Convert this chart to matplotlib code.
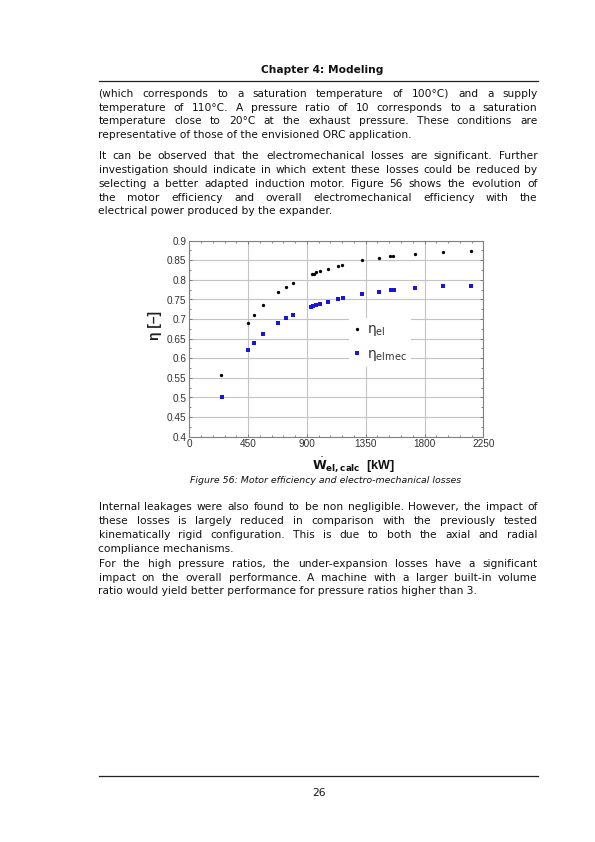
import matplotlib
matplotlib.use('Agg')
import matplotlib.pyplot as plt
from matplotlib.ticker import MultipleLocator, FuncFormatter

# ---------------- data ----------------
w_el_x = [245, 446, 497, 561, 679, 741, 792, 936, 951, 969, 1000, 1058, 1135, 1171,
          1322, 1450, 1539, 1560, 1726, 1943, 2155]
eta_el = [0.558, 0.691, 0.711, 0.735, 0.768, 0.782, 0.791, 0.814, 0.816, 0.819, 0.822,
          0.829, 0.835, 0.839, 0.850, 0.856, 0.860, 0.861, 0.866, 0.870, 0.873]
w_elmec_x = [249, 449, 497, 564, 682, 741, 792, 935, 950, 966, 1000, 1058, 1136, 1176,
             1324, 1450, 1544, 1565, 1726, 1943, 2158]
eta_elmec = [0.502, 0.621, 0.640, 0.661, 0.691, 0.703, 0.711, 0.732, 0.734, 0.735, 0.739,
             0.744, 0.750, 0.754, 0.765, 0.770, 0.774, 0.775, 0.779, 0.784, 0.785]
series_labels = [r'$\mathrm{η}_{\mathrm{el}}$', r'$\mathrm{η}_{\mathrm{elmec}}$']
x_ticks = [0, 450, 900, 1350, 1800, 2250]
y_ticks = [0.4, 0.45, 0.5, 0.55, 0.6, 0.65, 0.7, 0.75, 0.8, 0.85, 0.9]

header = "Chapter 4: Modeling"
para1 = [("(which corresponds to a saturation temperature of 100°C) and a supply", True),
         ("temperature of 110°C. A pressure ratio of 10 corresponds to a saturation", True),
         ("temperature close to 20°C at the exhaust pressure. These conditions are", True),
         ("representative of those of the envisioned ORC application.", False)]
para2 = [("It can be observed that the electromechanical losses are significant. Further", True),
         ("investigation should indicate in which extent these losses could be reduced by", True),
         ("selecting a better adapted induction motor. Figure 56 shows the evolution of", True),
         ("the motor efficiency and overall electromechanical efficiency with the", True),
         ("electrical power produced by the expander.", False)]
para3 = [("Internal leakages were also found to be non negligible. However, the impact of", True),
         ("these losses is largely reduced in comparison with the previously tested", True),
         ("kinematically rigid configuration. This is due to both the axial and radial", True),
         ("compliance mechanisms.", False)]
para4 = [("For the high pressure ratios, the under-expansion losses have a significant", True),
         ("impact on the overall performance. A machine with a larger built-in volume", True),
         ("ratio would yield better performance for pressure ratios higher than 3.", False)]
caption = "Figure 56: Motor efficiency and electro-mechanical losses"
page_no = "26"

# ---------------- page ----------------
W, H = 595, 842
fig = plt.figure(figsize=(W / 100, H / 100), dpi=100)
fig.patch.set_facecolor('white')
r = fig.canvas.get_renderer()


def fx(x):
    return x / W


def fy(y):
    return 1 - y / H


BODY = dict(family='DejaVu Sans', size=7.7, color='#111111')
X0, X1 = 98.5, 537.5


def draw_line(text, ycenter, justify):
    yb = fy(ycenter + 3.6)
    if not justify:
        fig.text(fx(X0), yb, text, ha='left', va='baseline', **BODY)
        return
    words = text.split(' ')
    ts = [fig.text(0, yb, w, ha='left', va='baseline', **BODY) for w in words]
    ws = [t.get_window_extent(r).width for t in ts]
    gap = (X1 - X0 - sum(ws)) / (len(words) - 1)
    x = X0
    for t, w in zip(ts, ws):
        t.set_x(fx(x))
        x += w + gap


def draw_para(lines, y0, step=13.8):
    for i, (t, j) in enumerate(lines):
        draw_line(t, y0 + i * step, j)


fig.text(fx(322.5), fy(70), header, ha='center', va='center',
         family='DejaVu Sans', weight='bold', size=7.7, color='#111111')
fig.add_artist(plt.Line2D([fx(98.5), fx(538)], [fy(80.7), fy(80.7)], color='#222222', lw=0.9))
draw_para(para1, 93.3)
draw_para(para2, 155.7)
draw_para(para3, 506.7)
draw_para(para4, 563.3)
fig.text(fx(326), fy(480.7), caption, ha='center', va='center',
         family='DejaVu Sans', style='italic', size=6.75, color='#111111')
fig.add_artist(plt.Line2D([fx(98.5), fx(538)], [fy(776), fy(776)], color='#222222', lw=0.9))
fig.text(fx(319), fy(793.5), page_no, ha='center', va='center', **BODY)

# ---------------- chart ----------------
L, R, T, B = 189.3, 483.3, 240.7, 436.7
ax = fig.add_axes([fx(L), fy(B), (R - L) / W, (B - T) / H])
ax.plot(w_el_x, eta_el, 'o', color='black', ms=2.4, mew=0, label=series_labels[0], zorder=3)
ax.plot(w_elmec_x, eta_elmec, 's', color='#1616e0', ms=2.7, mew=0, label=series_labels[1], zorder=3)
ax.set_xlim(0, 2250)
ax.set_ylim(0.4, 0.9)
ax.set_xticks(x_ticks)
ax.set_yticks(y_ticks)
ax.xaxis.set_minor_locator(MultipleLocator(90))
ax.yaxis.set_minor_locator(MultipleLocator(0.025))
ax.yaxis.set_major_formatter(FuncFormatter(lambda v, p: f'{v:g}'))
ax.grid(which='major', color='#c4c4c4', lw=0.8)
ax.set_axisbelow(True)
for s in ax.spines.values():
    s.set_color('#808080')
    s.set_linewidth(0.8)
ax.tick_params(which='both', direction='in', top=True, right=True, color='#707070', width=0.6)
ax.tick_params(which='major', length=2.5, labelsize=7.2, labelcolor='#333333', pad=2)
ax.tick_params(which='minor', length=1.5)
for lab in ax.get_xticklabels() + ax.get_yticklabels():
    lab.set_family('Liberation Sans')

leg = ax.legend(loc='upper left', bbox_to_anchor=(0.52, 0.64), frameon=True,
                fancybox=False, framealpha=1, edgecolor='none', fontsize=10,
                handlelength=0.6, handletextpad=0.4, labelspacing=0.6, borderpad=0.3,
                markerscale=1.0)
for t in leg.get_texts():
    t.set_color('#333333')

fig.text(fx(155), fy(325), 'η [–]', rotation=90, ha='center', va='center',
         family='Liberation Sans', weight='bold', size=10, color='#222222')
fig.text(fx(353), fy(465.5), r'$\dot{\mathbf{W}}_{\mathbf{el,calc}}$  [kW]', ha='center', va='center',
         family='Liberation Sans', weight='bold', size=9, color='#111111')

fig.savefig('out.png', dpi=100)
